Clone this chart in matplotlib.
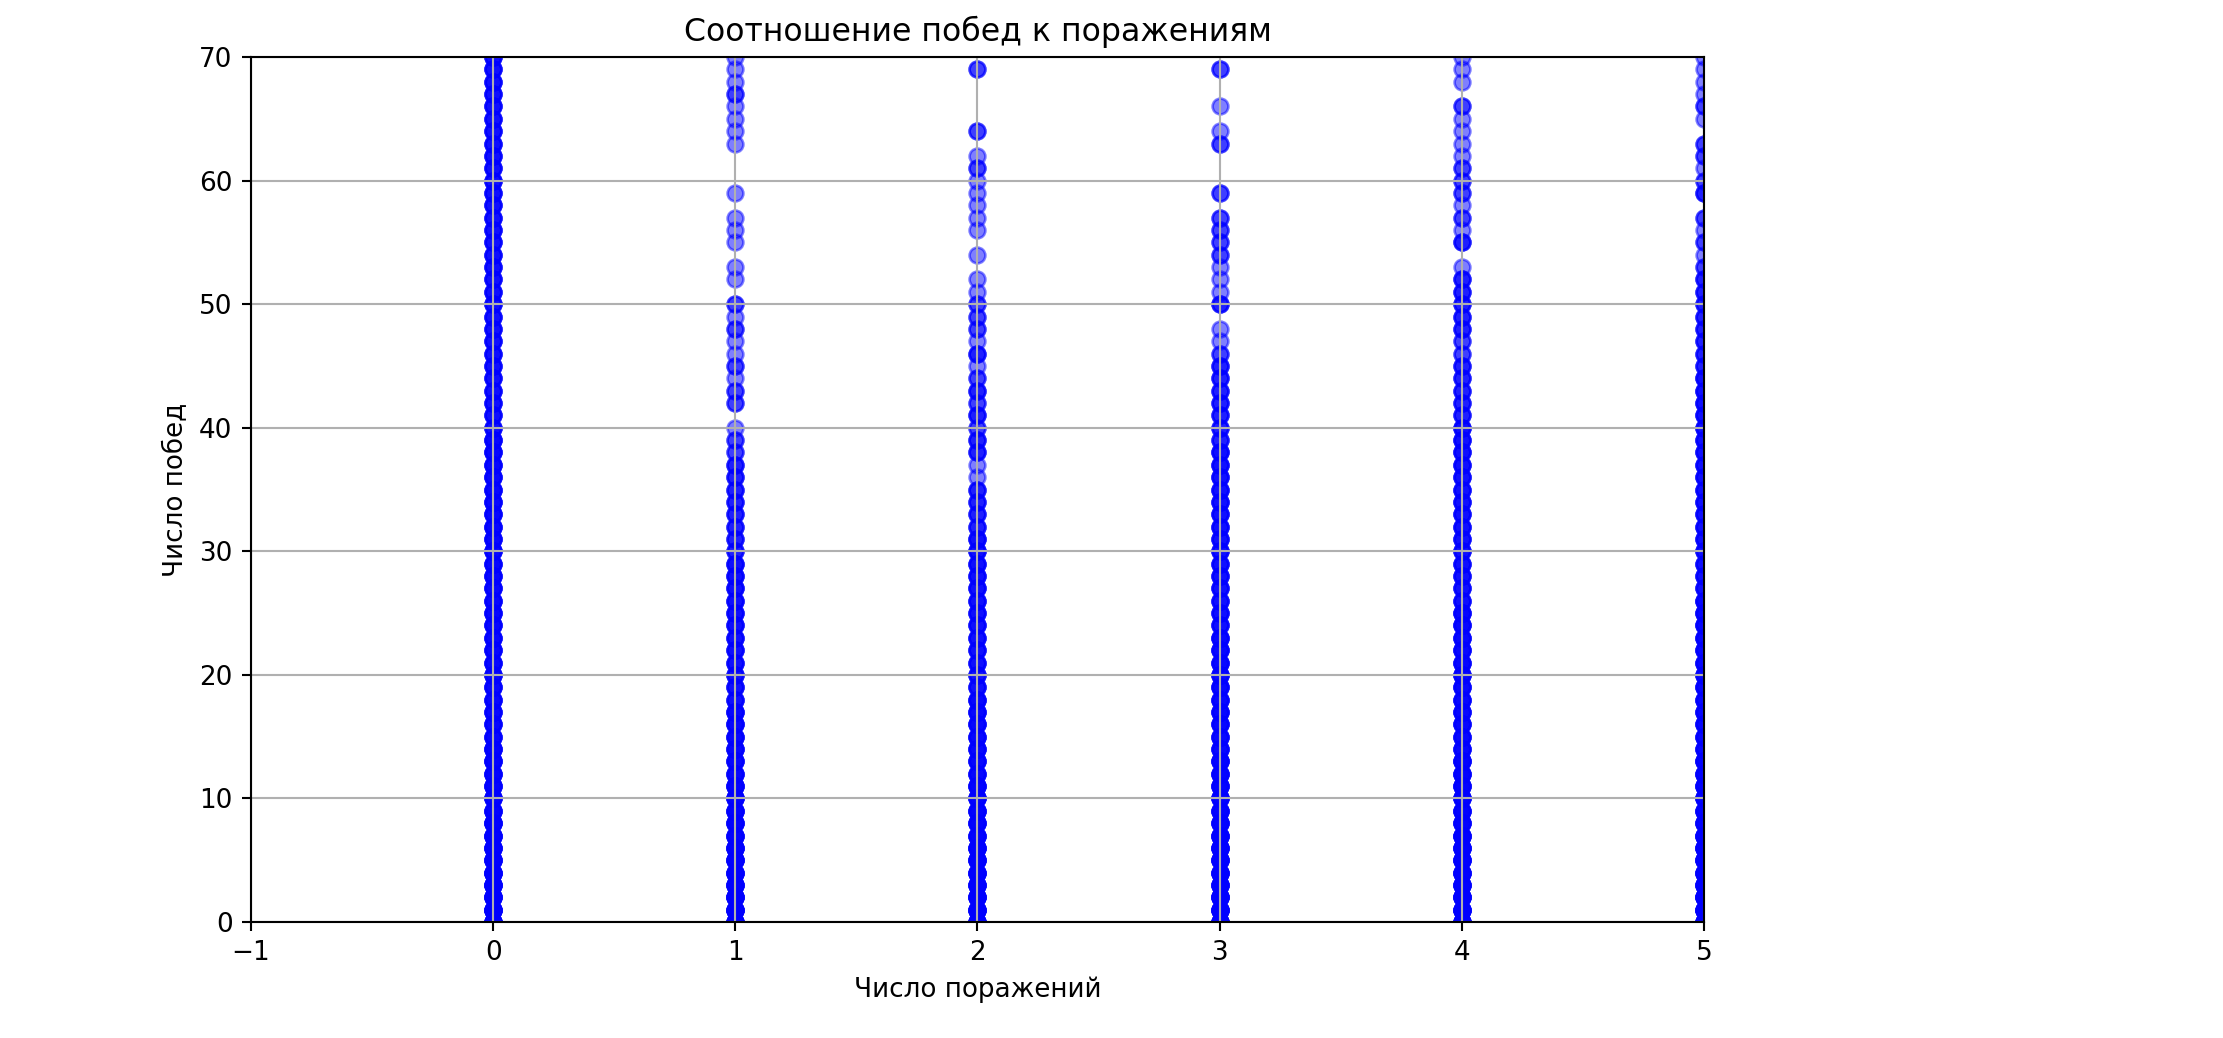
import numpy as np
import matplotlib
matplotlib.use("Agg")
import matplotlib.pyplot as plt

# число поражений (ось X)
losses = [0, 1, 2, 3, 4, 5]

# число побед для каждого значения поражений и сколько раз оно встречается
wins_l0 = [0, 1, 2, 3, 4, 5, 6, 7, 8, 9, 10, 11, 12, 13, 14, 15, 16, 17, 18, 19,
           20, 21, 22, 23, 24, 25, 26, 27, 28, 29, 30, 31, 32, 33, 34, 35, 36, 37, 38, 39,
           40, 41, 42, 43, 44, 45, 46, 47, 48, 49, 50, 51, 52, 53, 54, 55, 56, 57, 58, 59,
           60, 61, 62, 63, 64, 65, 66, 67, 68, 69, 70, 71]
counts_l0 = [9, 9, 8, 8, 8, 7, 7, 7, 7, 6, 6, 6, 6, 6, 6, 5, 5, 5, 5, 5,
             5, 5, 5, 5, 5, 5, 5, 5, 5, 5, 5, 5, 5, 5, 5, 5, 5, 5, 5, 5,
             4, 4, 4, 4, 4, 4, 4, 4, 4, 4, 4, 4, 4, 4, 4, 4, 4, 4, 4, 4,
             4, 4, 4, 4, 4, 4, 4, 4, 4, 4, 4, 4]

wins_l1 = [0, 1, 2, 3, 4, 5, 6, 7, 8, 9, 10, 11, 12, 13, 14, 15, 16, 17, 18, 19,
           20, 21, 22, 23, 24, 25, 26, 27, 28, 29, 30, 31, 32, 33, 34, 35, 36, 37, 38, 39,
           40, 42, 43, 44, 45, 46, 47, 48, 49, 50, 52, 53, 55, 56, 57, 59,
           63, 64, 65, 66, 67, 68, 69, 70, 71]
counts_l1 = [8, 8, 8, 7, 7, 7, 7, 6, 6, 6, 6, 6, 5, 5, 5, 5, 5, 5, 4, 4,
             4, 4, 4, 4, 4, 4, 4, 4, 4, 4, 3, 3, 3, 3, 3, 3, 3, 3, 2, 2,
             1, 2, 2, 1, 2, 1, 1, 2, 1, 2, 1, 1, 1, 1, 1, 1,
             1, 1, 1, 1, 2, 1, 1, 1, 1]

wins_l2 = [0, 1, 2, 3, 4, 5, 6, 7, 8, 9, 10, 11, 12, 13, 14, 15, 16, 17, 18, 19,
           20, 21, 22, 23, 24, 25, 26, 27, 28, 29, 30, 31, 32, 33, 34, 35, 36, 37, 38, 39,
           40, 41, 42, 43, 44, 45, 46, 47, 48, 49, 50, 51, 52, 54, 56, 57, 58, 59,
           60, 61, 62, 64, 69]
counts_l2 = [8, 8, 8, 7, 7, 7, 7, 6, 6, 6, 6, 6, 5, 5, 5, 5, 5, 5, 5, 4,
             4, 4, 4, 4, 4, 4, 4, 4, 4, 4, 4, 4, 3, 3, 3, 3, 1, 1, 3, 3,
             2, 3, 2, 3, 2, 1, 3, 1, 2, 2, 2, 1, 1, 1, 1, 1, 1, 1,
             1, 2, 1, 2, 2]

wins_l3 = [0, 1, 2, 3, 4, 5, 6, 7, 8, 9, 10, 11, 12, 13, 14, 15, 16, 17, 18, 19,
           20, 21, 22, 23, 24, 25, 26, 27, 28, 29, 30, 31, 32, 33, 34, 35, 36, 37, 38, 39,
           40, 41, 42, 43, 44, 45, 46, 47, 48, 50, 51, 52, 53, 54, 55, 56, 57, 59,
           63, 64, 66, 69]
counts_l3 = [8, 8, 8, 7, 7, 7, 7, 7, 6, 6, 6, 6, 6, 6, 5, 5, 5, 5, 5, 5,
             5, 5, 5, 5, 4, 4, 4, 4, 4, 4, 4, 4, 4, 4, 4, 4, 4, 4, 4, 3,
             3, 3, 3, 3, 3, 3, 2, 1, 1, 3, 1, 1, 1, 2, 2, 2, 2, 2,
             2, 1, 1, 2]

wins_l4 = [0, 1, 2, 3, 4, 5, 6, 7, 8, 9, 10, 11, 12, 13, 14, 15, 16, 17, 18, 19,
           20, 21, 22, 23, 24, 25, 26, 27, 28, 29, 30, 31, 32, 33, 34, 35, 36, 37, 38, 39,
           40, 41, 42, 43, 44, 45, 46, 47, 48, 49, 50, 51, 52, 53, 55, 56, 57, 58, 59,
           60, 61, 62, 63, 64, 65, 66, 68, 69, 70, 71]
counts_l4 = [8, 8, 8, 7, 7, 7, 7, 7, 6, 6, 6, 6, 6, 6, 5, 5, 5, 5, 5, 5,
             5, 5, 5, 5, 5, 5, 4, 4, 4, 4, 4, 4, 4, 4, 4, 4, 4, 4, 4, 4,
             4, 3, 3, 3, 3, 3, 2, 2, 3, 3, 3, 3, 3, 1, 3, 1, 2, 1, 2,
             2, 2, 1, 1, 1, 1, 2, 1, 1, 1, 1]

wins_l5 = [0, 1, 2, 3, 4, 5, 6, 7, 8, 9, 10, 11, 12, 13, 14, 15, 16, 17, 18, 19,
           20, 21, 22, 23, 24, 25, 26, 27, 28, 29, 30, 31, 32, 33, 34, 35, 36, 37, 38, 39,
           40, 41, 42, 43, 44, 45, 46, 47, 48, 49, 50, 51, 52, 53, 54, 55, 56, 57, 59,
           60, 61, 62, 63, 65, 66, 67, 68, 69, 70, 71]
counts_l5 = [8, 8, 8, 7, 7, 7, 7, 7, 6, 6, 6, 6, 6, 6, 5, 5, 5, 5, 5, 5,
             5, 5, 5, 5, 5, 5, 5, 4, 4, 4, 4, 4, 4, 4, 4, 4, 4, 4, 4, 4,
             4, 4, 4, 4, 4, 3, 3, 3, 3, 3, 3, 3, 3, 2, 1, 2, 1, 2, 3,
             2, 1, 2, 2, 1, 2, 1, 1, 1, 1, 1]

wins_all = [wins_l0, wins_l1, wins_l2, wins_l3, wins_l4, wins_l5]
counts_all = [counts_l0, counts_l1, counts_l2, counts_l3, counts_l4, counts_l5]

x_vals = []
y_vals = []
for loss, wins, counts in zip(losses, wins_all, counts_all):
    y_rep = np.repeat(wins, counts)
    x_vals.extend([loss] * len(y_rep))
    y_vals.extend(y_rep)

DPI = 189
fig = plt.figure(figsize=(2223 / DPI, 1038 / DPI), dpi=DPI)
ax = fig.add_axes([251 / 2223, 116 / 1038, 1453 / 2223, 865 / 1038])

ax.scatter(x_vals, y_vals, color='blue', alpha=0.5)
ax.set_xlim(-1, 5)
ax.set_ylim(0, 70)
ax.set_xlabel("Число поражений")
ax.set_ylabel("Число побед")
ax.set_title("Соотношение побед к поражениям")
ax.grid(True)

fig.savefig("out.png", dpi=DPI)
plt.close(fig)
